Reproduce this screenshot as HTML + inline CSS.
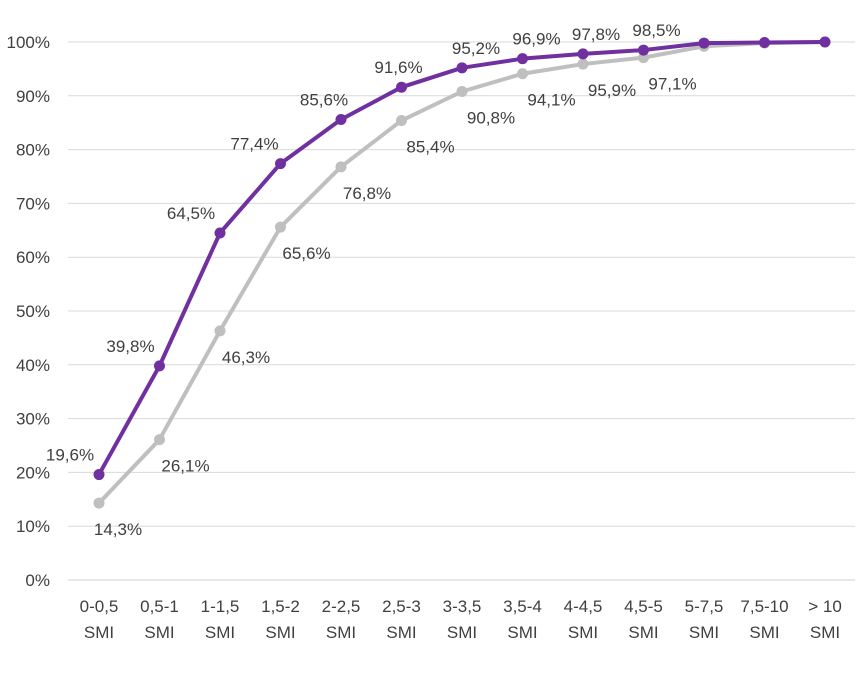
<!DOCTYPE html>
<html><head><meta charset="utf-8"><style>
body{margin:0;background:#fff;}
svg{display:block;font-family:"Liberation Sans",sans-serif;}
</style></head><body>
<svg id="chart" width="859" height="676" viewBox="0 0 859 676"></svg>
<script>
const categories=["0-0,5","0,5-1","1-1,5","1,5-2","2-2,5","2,5-3","3-3,5","3,5-4","4-4,5","4,5-5","5-7,5","7,5-10","> 10"];
const purpleValues=[19.6,39.8,64.5,77.4,85.6,91.6,95.2,96.9,97.8,98.5,99.8,99.9,100];
const grayValues=[14.3,26.1,46.3,65.6,76.8,85.4,90.8,94.1,95.9,97.1,99.2,99.8,100];
const purpleLabels=["19,6%","39,8%","64,5%","77,4%","85,6%","91,6%","95,2%","96,9%","97,8%","98,5%","","",""];
const grayLabels=["14,3%","26,1%","46,3%","65,6%","76,8%","85,4%","90,8%","94,1%","95,9%","97,1%","","",""];
const yTicks=[0,10,20,30,40,50,60,70,80,90,100];
const yTickLabels=["0%","10%","20%","30%","40%","50%","60%","70%","80%","90%","100%"];

const NS="http://www.w3.org/2000/svg";
const svg=document.getElementById('chart');
const x=i=>99+i*(825-99)/(categories.length-1);
const y=v=>580-v*(580-42)/100;
function mk(tag,attrs,parent){const e=document.createElementNS(NS,tag);for(const k in attrs)e.setAttribute(k,attrs[k]);(parent||svg).appendChild(e);return e;}

yTicks.forEach((t,i)=>{
  const g=mk('line',{x1:68,x2:855,y1:y(t),y2:y(t),stroke:t===0?'#d0d0d0':'#d9d9d9','stroke-width':1});
  
  
  const tx=mk('text',{x:50,y:y(t)+6,'text-anchor':'end','font-size':17,fill:'#404040'});
  tx.textContent=yTickLabels[i];
  
  
});
categories.forEach((c,i)=>{
  const t1=mk('text',{x:x(i),y:612,'text-anchor':'middle','font-size':17,fill:'#404040'});
  t1.textContent=c;
  
  
  const t2=mk('text',{x:x(i),y:638,'text-anchor':'middle','font-size':17,fill:'#404040'});
  t2.textContent='SMI';
  
  
});
function series(vals,color,name){
  const pts=vals.map((v,i)=>x(i)+','+y(v)).join(' ');
  const pl=mk('polyline',{points:pts,fill:'none',stroke:color,'stroke-width':4,'stroke-linejoin':'round'});
  
  
  vals.forEach((v,i)=>{
    const c=mk('circle',{cx:x(i),cy:y(v),r:5.5,fill:color});
    
    
  });
}
series(grayValues,'#bfbfbf','gray-series');
series(purpleValues,'#7030a0','purple-series');
const pdx=[-29,-29,-29,-26,-17,-3,14,14,13,13,0,0,0];
purpleLabels.forEach((l,i)=>{
  if(!l)return;
  const t=mk('text',{x:x(i)+pdx[i],y:y(purpleValues[i])-14,'text-anchor':'middle','font-size':17,fill:'#404040'});
  t.textContent=l;
  
  
});
grayLabels.forEach((l,i)=>{
  if(!l)return;
  const dx=i<5?(i===0?19:26):29;
  const t=mk('text',{x:x(i)+dx,y:y(grayValues[i])+32,'text-anchor':'middle','font-size':17,fill:'#404040'});
  t.textContent=l;
  
  
});
</script>
</body></html>
